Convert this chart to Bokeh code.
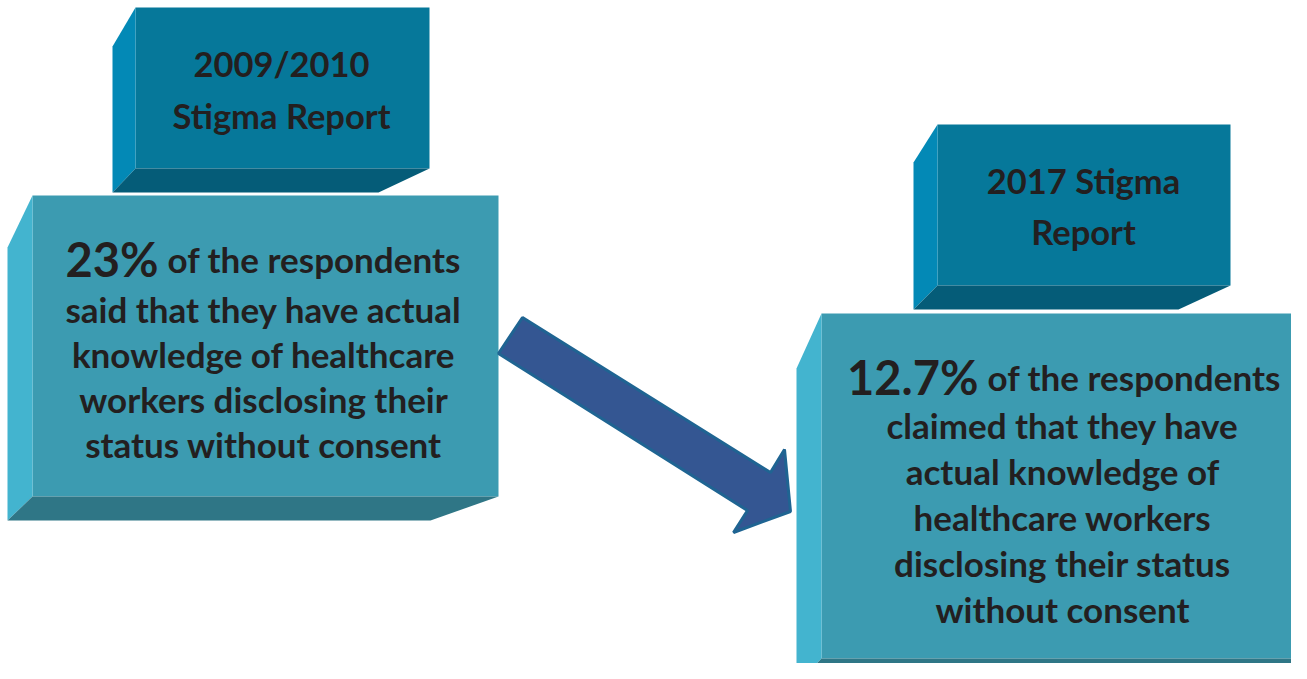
from bokeh.plotting import figure
from bokeh.models import Range1d
from bokeh.embed import file_html
from bokeh.resources import INLINE
from bokeh.core.properties import value

# ---- data ----
report_titles = [["2009/2010", "Stigma Report"], ["2017 Stigma", "Report"]]
percentages = [23, 12.7]
first_line_rest = ["of the respondents", "of the respondents"]
body_lines_1 = ["said that they have actual", "knowledge of healthcare",
                "workers disclosing their", "status without consent"]
body_lines_2 = ["claimed that they have", "actual knowledge of", "healthcare workers",
                "disclosing their status", "without consent"]

FONT = value("Lato")
TXT = "#231F20"

p = figure(width=1291, height=663, output_backend="svg", toolbar_location=None,
           x_range=Range1d(0, 1291), y_range=Range1d(663, 0),
           min_border=0, outline_line_color=None, background_fill_color="white",
           border_fill_color="white")
p.axis.visible = False
p.grid.visible = False


def box(x0, y0, x1, y1, depth_x, side_top, bottom_y, bottom_right, front, side, bottom):
    # front face
    p.patch([x0, x1, x1, x0], [y0, y0, y1, y1], fill_color=front, line_color=None)
    # left side face
    p.patch([x0 - depth_x, x0, x0, x0 - depth_x], [side_top, y0, y1, bottom_y],
            fill_color=side, line_color=None)
    # bottom face
    p.patch([x0 - depth_x, x0, x1, bottom_right], [bottom_y, y1, y1, bottom_y],
            fill_color=bottom, line_color=None)


HF, HS, HB = "#06789A", "#0389B6", "#055C78"
MF, MS, MB = "#3C9BB1", "#43B4CF", "#2F7686"

# headers
box(135, 7, 429, 168, 23, 46, 192, 378, HF, HS, HB)
box(937, 124, 1230, 285, 24, 162, 309, 1178, HF, HS, HB)
# main boxes
box(32, 195, 498, 496, 25, 247, 520, 430, MF, MS, MB)
box(821, 313, 1310, 658, 25, 368, 684, 1232, MF, MS, MB)

# arrow
ax = [522, 770, 784, 790, 733, 747, 498]
ay = [317, 472, 449, 511, 532, 510, 353]
p.patch(ax, ay, fill_color="#345692", line_color="#1F6492", line_width=3)

common = dict(text_font=FONT, text_font_style="bold", text_color=TXT,
              text_baseline="alphabetic")

# header texts
p.text(x=[281, 281], y=[63, 115], text=report_titles[0], text_align="center",
       text_font_size="34.5px", **common)
p.text(x=[1083, 1083], y=[180, 231], text=report_titles[1], text_align="center",
       text_font_size="34.5px", **common)

# first lines with big percentages
p.text(x=[158], y=[258], text=[f"{percentages[0]:g}%"], text_align="right",
       text_font_size="47px", **common)
p.text(x=[167], y=[258], text=[first_line_rest[0]], text_align="left",
       text_font_size="35px", **common)
p.text(x=[978], y=[376], text=[f"{percentages[1]:g}%"], text_align="right",
       text_font_size="47px", **common)
p.text(x=[987], y=[376], text=[first_line_rest[1]], text_align="left",
       text_font_size="35px", **common)

# body lines
p.text(x=[263] * len(body_lines_1), y=[308 + 45 * i for i in range(len(body_lines_1))],
       text=body_lines_1, text_align="center", text_font_size="35px", **common)
p.text(x=[1062] * len(body_lines_2), y=[424 + 46 * i for i in range(len(body_lines_2))],
       text=body_lines_2, text_align="center", text_font_size="35px", **common)

open("out.html", "w").write(file_html(p, INLINE))
